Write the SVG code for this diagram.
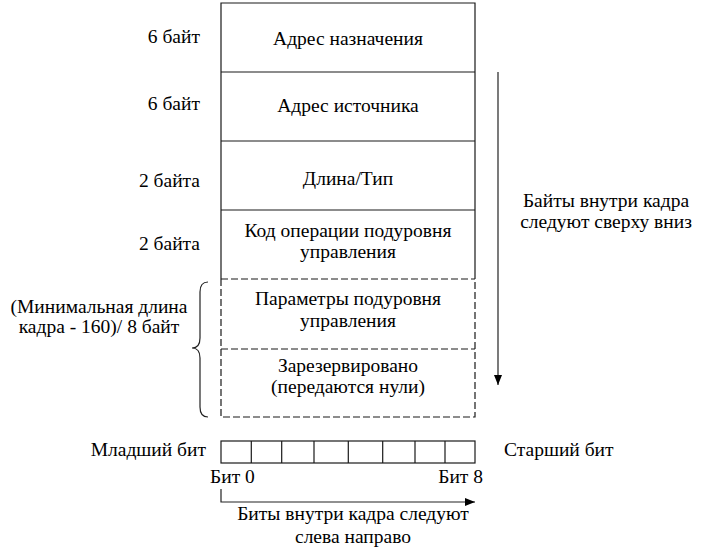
<svg xmlns="http://www.w3.org/2000/svg" width="701" height="556" viewBox="0 0 701 556">
<defs>
<style>
text{font-family:"Liberation Serif","Times New Roman",serif;font-size:19.5px;fill:#000}
.m{text-anchor:middle}.e{text-anchor:end}
.s{fill:none;stroke:#1a1a1a;stroke-width:1.2}
.d{fill:none;stroke:#1a1a1a;stroke-width:1.2;stroke-dasharray:7 3}
.c{fill:none;stroke:#222;stroke-width:1.2}
</style>
<marker id="ah" viewBox="0 0 10 10" refX="10" refY="5" markerWidth="10" markerHeight="10" markerUnits="userSpaceOnUse" orient="auto"><path d="M0,1 L10,5 L0,9 Z" fill="#000"/></marker>
</defs>
<rect width="701" height="556" fill="#fff"/>
<g id="frame">
<g id="f-dst"><path class="s" d="M221,279 V3 H475 V279 M221,72 H475"/><text class="m" x="348" y="45">Адрес назначения</text></g>
<g id="f-src"><path class="s" d="M221,141 H475"/><text class="m" x="348" y="112">Адрес источника</text></g>
<g id="f-len"><path class="s" d="M221,210 H475"/><text class="m" x="348" y="185">Длина/Тип</text></g>
<g id="f-op"><text class="m" x="348" y="237">Код операции подуровня</text><text class="m" x="348" y="258">управления</text></g>
<g id="f-par"><path class="d" d="M221,279 H475 M221,349 H475 M221,279 V417 H475 V279"/><text class="m" x="348" y="305">Параметры подуровня</text><text class="m" x="348" y="327">управления</text></g>
<g id="f-res"><text class="m" x="348" y="372">Зарезервировано</text><text class="m" x="348" y="393">(передаются нули)</text></g>
</g>
<g id="labels">
<text class="e" x="200" y="43">6 байт</text>
<text class="e" x="200" y="110">6 байт</text>
<text class="e" x="200" y="187">2 байта</text>
<text class="e" x="200" y="250">2 байта</text>
<text class="m" x="99" y="313">(Минимальная длина</text>
<text class="m" x="99" y="333">кадра - 160)/ 8 байт</text>
<text class="m" x="606" y="207">Байты внутри кадра</text>
<text class="m" x="606" y="228">следуют сверху вниз</text>
</g>
<g id="brace"><path class="c" d="M208,282 Q200,282 200,292 V338 Q200,348 192,348 Q200,348 200,358 V407 Q200,417 208,417"/></g>
<g id="bits">
<rect class="s" x="221" y="441" width="254" height="22"/>
<path class="s" d="M251.3,441 V463 M281.7,441 V463 M314,441 V463 M348.3,441 V463 M382.7,441 V463 M415,441 V463 M445,441 V463"/>
<text class="e" x="206" y="456">Младший бит</text>
<text x="504" y="456">Старший бит</text>
<text x="210" y="483">Бит 0</text>
<text class="e" x="483" y="483">Бит 8</text>
<text class="m" x="353" y="520">Биты внутри кадра следуют</text>
<text class="m" x="353" y="543">слева направо</text>
</g>
<g id="connectors">
<path class="c" d="M498,72 V385" marker-end="url(#ah)"/>
<path class="c" d="M221,489 V502 H475" marker-end="url(#ah)"/>
</g>
</svg>
